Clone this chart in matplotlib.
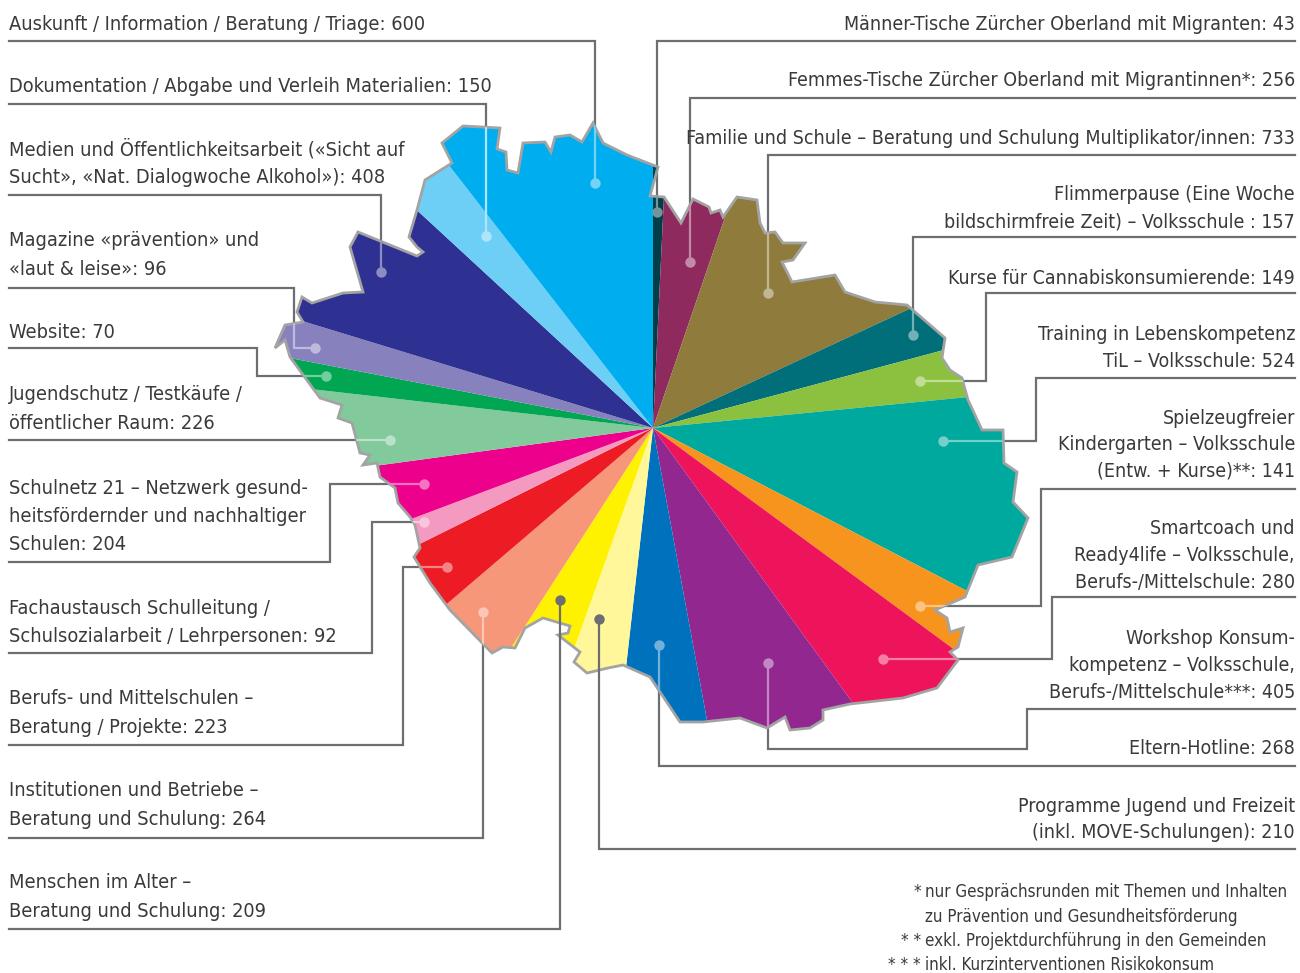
import numpy as np
import matplotlib.pyplot as plt
from matplotlib.patches import Polygon
from matplotlib.colors import to_rgb

W, H = 1300, 973

# wedges, clockwise from 12 o'clock
labels = [
    ["Männer-Tische Zürcher Oberland mit Migranten: 43"],
    ["Femmes-Tische Zürcher Oberland mit Migrantinnen*: 256"],
    ["Familie und Schule – Beratung und Schulung Multiplikator/innen: 733"],
    ["Flimmerpause (Eine Woche", "bildschirmfreie Zeit) – Volksschule : 157"],
    ["Kurse für Cannabiskonsumierende: 149"],
    ["Training in Lebenskompetenz", "TiL – Volksschule: 524"],
    ["Spielzeugfreier", "Kindergarten – Volksschule", "(Entw. + Kurse)**: 141"],
    ["Smartcoach und", "Ready4life – Volksschule,", "Berufs-/Mittelschule: 280"],
    ["Workshop Konsum-", "kompetenz – Volksschule,", "Berufs-/Mittelschule***: 405"],
    ["Eltern-Hotline: 268"],
    ["Programme Jugend und Freizeit", "(inkl. MOVE-Schulungen): 210"],
    ["Menschen im Alter –", "Beratung und Schulung: 209"],
    ["Institutionen und Betriebe –", "Beratung und Schulung: 264"],
    ["Berufs- und Mittelschulen –", "Beratung / Projekte: 223"],
    ["Fachaustausch Schulleitung /", "Schulsozialarbeit / Lehrpersonen: 92"],
    ["Schulnetz 21 – Netzwerk gesund-", "heitsfördernder und nachhaltiger", "Schulen: 204"],
    ["Jugendschutz / Testkäufe /", "öffentlicher Raum: 226"],
    ["Website: 70"],
    ["Magazine «prävention» und", "«laut & leise»: 96"],
    ["Medien und Öffentlichkeitsarbeit («Sicht auf", "Sucht», «Nat. Dialogwoche Alkohol»): 408"],
    ["Dokumentation / Abgabe und Verleih Materialien: 150"],
    ["Auskunft / Information / Beratung / Triage: 600"],
]
values = [43, 256, 733, 157, 149, 524, 141, 280, 405, 268, 210,
          209, 264, 223, 92, 204, 226, 70, 96, 408, 150, 600]
colors = ["#003f48", "#8f2a5f", "#8f7b3b", "#006f7a", "#8cc13f", "#00a99d",
          "#f7941d", "#ed145b", "#92278f", "#0071bc", "#fff799",
          "#fff200", "#f7977a", "#ed1c24", "#f49ac1", "#ec008c", "#82ca9c",
          "#00a651", "#8781bd", "#2e3192", "#6dcff6", "#00aeef"]

footnotes = [("*", "nur Gesprächsrunden mit Themen und Inhalten"),
             ("", "zu Prävention und Gesundheitsförderung"),
             ("* *", "exkl. Projektdurchführung in den Gemeinden"),
             ("* * *", "inkl. Kurzinterventionen Risikokonsum")]

# layout (pixel coords, y down): first text line y, leader path ending at the dot
layout = [
    ("R", 24, [(1295, 41), (657, 41), (657, 212)]),
    ("R", 81, [(1295, 98), (690, 98), (690, 262)]),
    ("R", 138, [(1295, 155), (768, 155), (768, 293)]),
    ("R", 195, [(1295, 237), (913, 237), (913, 335)]),
    ("R", 278, [(1295, 293), (986, 293), (986, 381), (920, 381)]),
    ("R", 335, [(1295, 378), (1036, 378), (1036, 441), (943, 441)]),
    ("R", 418, [(1295, 489), (1041, 489), (1041, 606), (920, 606)]),
    ("R", 529, [(1295, 597), (1052, 597), (1052, 659), (883, 659)]),
    ("R", 639, [(1295, 709), (1027, 709), (1027, 749), (768, 749), (768, 663)]),
    ("R", 749, [(1295, 766), (659, 766), (659, 645)]),
    ("R", 806, [(1295, 849), (599, 849), (599, 619)]),
    ("L", 883, [(9, 929), (560, 929), (560, 600)]),
    ("L", 791, [(9, 838), (483, 838), (483, 612)]),
    ("L", 699, [(9, 745), (403, 745), (403, 567), (447, 567)]),
    ("L", 608, [(9, 653), (372, 653), (372, 522), (424, 522)]),
    ("L", 488, [(9, 562), (330, 562), (330, 484), (424, 484)]),
    ("L", 395, [(9, 440), (390, 440)]),
    ("L", 333, [(9, 348), (257, 348), (257, 376), (326, 376)]),
    ("L", 241, [(9, 288), (294, 288), (294, 348), (315, 348)]),
    ("L", 149, [(9, 195), (381, 195), (381, 272)]),
    ("L", 87, [(9, 104), (486, 104), (486, 236)]),
    ("L", 24, [(9, 41), (595, 41), (595, 183)]),
]

# outline of the region (clip shape for the pie)
outline = [
    (442, 143), (463, 126), (500, 128), (497, 149), (506, 152), (507, 170), (518, 173),
    (523, 143), (545, 142), (551, 152), (555, 137), (570, 135), (582, 142), (593, 123),
    (603, 143), (627, 155), (658, 167), (650, 196), (664, 197), (681, 223), (693, 199),
    (709, 207), (711, 213), (720, 210), (723, 217), (737, 197), (757, 200), (760, 223),
    (765, 233), (775, 232), (783, 243), (805, 243), (793, 260), (782, 262), (792, 282),
    (835, 275), (845, 292), (875, 302), (907, 305), (945, 338), (942, 358), (950, 370),
    (962, 378), (968, 400), (982, 430), (1003, 430), (1004, 463), (1017, 472), (1013, 502),
    (1028, 518), (1012, 557), (978, 565), (965, 597), (935, 610), (947, 618), (950, 632),
    (963, 628), (958, 647), (950, 652), (958, 660), (937, 688), (903, 698), (850, 704),
    (823, 710), (823, 720), (810, 728), (790, 730), (785, 717), (767, 728), (740, 718),
    (703, 722), (680, 722), (650, 677), (623, 665), (608, 668), (587, 673), (574, 662),
    (580, 652), (558, 635), (568, 633), (570, 626), (543, 618), (525, 628), (515, 648),
    (503, 647), (492, 653), (450, 610), (430, 583), (414, 557), (420, 548), (415, 525),
    (410, 517), (398, 503), (395, 488), (380, 477), (377, 463), (363, 465), (370, 455),
    (360, 453), (352, 423), (338, 418), (342, 405), (320, 398), (290, 357), (285, 340),
    (275, 348), (285, 325), (303, 322), (297, 312), (302, 297), (312, 303), (343, 293),
    (363, 292), (350, 247), (358, 232), (417, 256), (423, 252), (417, 247), (409, 237),
    (417, 210), (425, 180), (452, 163),
]

TEXT = "#3a3a3a"
LEAD = "#6d6e71"
FONT = dict(family=["Liberation Sans Narrow", "DejaVu Sans"], stretch="condensed")


def tint(c, f=0.45):
    r, g, b = to_rgb(c)
    return (r + (1 - r) * f, g + (1 - g) * f, b + (1 - b) * f)


fig = plt.figure(figsize=(W / 100, H / 100), dpi=100)
ax = fig.add_axes([0, 0, 1, 1])

# y axis points down, so start at 270 and go counterclockwise in data space
wedges, _ = ax.pie(values, colors=colors, startangle=270, counterclock=True,
                   radius=450, center=(653, 428), frame=False,
                   wedgeprops=dict(linewidth=0))
ax.set_xlim(0, W)
ax.set_ylim(H, 0)
ax.axis("off")

clip = Polygon(outline, closed=True, transform=ax.transData)
for w in wedges:
    w.set_clip_on(True)
    w.set_clip_path(clip)
    w.set_zorder(2)

ax.add_patch(Polygon(outline, closed=True, fill=False, edgecolor="#a3a3a3",
                     lw=2.0, joinstyle="miter", zorder=3))

for lines, col, (side, y0, path) in zip(labels, colors, layout):
    step = 26.5 if side == "R" else 28.5
    x = 1295 if side == "R" else 9
    fs = 14.0 if side == "R" else 14.3
    for i, s in enumerate(lines):
        ax.text(x, y0 + i * step, s, ha="right" if side == "R" else "left",
                va="center", fontsize=fs, color=TEXT, **FONT)
    xs = [p[0] for p in path]
    ys = [p[1] for p in path]
    yellow = col in ("#fff799", "#fff200")
    ax.plot(xs, ys, color=LEAD, lw=1.6, zorder=4 if yellow else 0.5,
            solid_joinstyle="miter")
    if yellow:
        ax.plot(xs[-1], ys[-1], "o", ms=7.5, color=LEAD, mec="none", zorder=5)
    else:
        ln, = ax.plot(xs, ys, color=tint(col), lw=1.6, zorder=4)
        ln.set_clip_path(clip)
        ax.plot(xs[-1], ys[-1], "o", ms=7.5, color=tint(col), mec="none", zorder=5)

for i, (star, s) in enumerate(footnotes):
    y = 892 + i * 24.5
    ax.text(921, y, star, ha="right", va="center", fontsize=12.2, color=TEXT, **FONT)
    ax.text(925, y, s, ha="left", va="center", fontsize=12.2, color=TEXT, **FONT)

fig.savefig("out.png", dpi=100, facecolor="white")
